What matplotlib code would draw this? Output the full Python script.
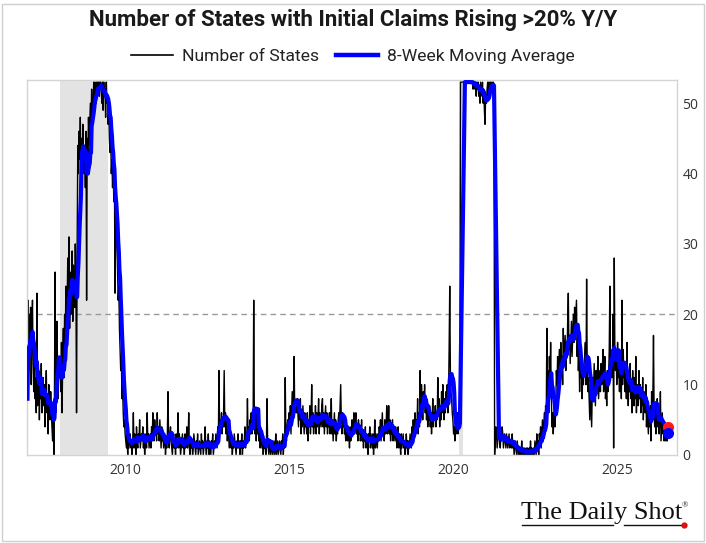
import matplotlib
matplotlib.use('Agg')
import matplotlib.pyplot as plt
import matplotlib.dates as mdates
from matplotlib import font_manager
from matplotlib.lines import Line2D
from matplotlib.patches import Rectangle
import pandas as pd
import datetime as dt

# ---- weekly number of states with initial claims rising >20% y/y ----
y2007 = [8, 22, 12, 20, 15, 21, 10, 18, 22, 13, 9, 14, 8,
         11, 6, 23, 7, 9, 12, 5, 10, 8, 13, 6, 9, 11,
         7, 10, 4, 9, 12, 6, 8, 3, 10, 7, 5, 9, 6,
         4, 2, 7, 0, 9, 26, 6, 15, 19, 12, 8, 14, 11]
y2008 = [12, 9, 16, 6, 14, 18, 11, 20, 15, 24, 17, 21, 28,
         22, 31, 18, 26, 20, 25, 29, 19, 27, 23, 21, 30, 24,
         6, 30, 44, 40, 46, 42, 48, 39, 45, 41, 47, 43, 40,
         44, 38, 46, 22, 45, 42, 48, 44, 47, 50, 46, 52, 49]
y2009 = [48, 53, 51, 53, 52, 50, 53, 53, 52, 53, 51, 53, 53,
         52, 50, 53, 49, 53, 51, 52, 48, 53, 50, 51, 47, 49,
         45, 43, 46, 40, 42, 38, 41, 36, 39, 23, 35, 32, 30,
         26, 22, 24, 18, 15, 12, 14, 8, 10, 6, 4, 5, 3]
y2010 = [2, 1, 3, 0, 4, 1, 2, 3, 1, 2, 0, 2, 6,
         1, 3, 2, 0, 4, 2, 1, 3, 2, 5, 1, 2, 3,
         2, 4, 1, 3, 0, 2, 3, 1, 6, 2, 3, 1, 2,
         3, 1, 4, 2, 6, 3, 2, 5, 3, 4, 2, 6, 3]
y2011 = [4, 2, 5, 3, 1, 4, 2, 3, 1, 2, 3, 0, 2,
         1, 3, 9, 2, 1, 3, 4, 2, 1, 0, 2, 3, 1,
         2, 0, 3, 1, 2, 6, 1, 3, 2, 0, 1, 2, 3,
         1, 2, 0, 3, 1, 2, 4, 1, 2, 6, 1, 0, 2]
y2012 = [1, 2, 0, 1, 3, 2, 1, 0, 2, 1, 3, 0, 1,
         2, 1, 0, 3, 1, 2, 0, 1, 2, 4, 1, 0, 2,
         1, 3, 0, 2, 1, 0, 2, 1, 3, 0, 1, 2, 1,
         3, 2, 1, 4, 2, 12, 3, 5, 4, 6, 3, 5, 4]
y2013 = [12, 4, 6, 3, 5, 2, 4, 3, 1, 2, 3, 1, 2,
         0, 2, 1, 3, 2, 1, 0, 2, 1, 3, 1, 2, 0,
         2, 1, 3, 0, 2, 1, 2, 4, 1, 3, 2, 8, 3,
         4, 2, 5, 3, 6, 3, 4, 4, 22, 5, 3, 6, 2]
y2014 = [6, 3, 5, 2, 4, 1, 3, 2, 1, 3, 0, 2, 1,
         2, 0, 1, 8, 2, 1, 0, 2, 1, 0, 1, 2, 0,
         1, 2, 0, 1, 3, 0, 1, 2, 0, 1, 2, 1, 0,
         2, 1, 3, 0, 2, 1, 11, 3, 2, 4, 5, 3, 6]
y2015 = [4, 7, 3, 6, 9, 5, 8, 14, 6, 7, 7, 6, 8,
         6, 4, 7, 5, 8, 3, 6, 4, 7, 5, 3, 6, 4,
         5, 3, 6, 2, 5, 4, 7, 3, 5, 10, 4, 6, 3,
         5, 4, 7, 3, 6, 4, 5, 8, 3, 6, 5, 4, 7]
y2016 = [8, 4, 6, 3, 5, 7, 4, 6, 3, 5, 4, 6, 3,
         4, 8, 3, 5, 2, 4, 6, 3, 5, 2, 4, 3, 5,
         6, 4, 7, 10, 5, 3, 6, 4, 5, 3, 4, 2, 5,
         3, 2, 4, 3, 1, 4, 2, 3, 5, 3, 4, 6, 3]
y2017 = [5, 6, 3, 4, 2, 5, 3, 4, 2, 3, 5, 2, 3,
         1, 3, 2, 4, 1, 3, 2, 0, 3, 2, 4, 1, 3,
         2, 1, 3, 0, 2, 5, 1, 3, 2, 1, 3, 2, 4,
         3, 5, 2, 4, 6, 3, 4, 2, 5, 3, 4, 7, 3]
y2018 = [4, 7, 3, 5, 2, 4, 3, 5, 2, 4, 3, 2, 4,
         3, 1, 2, 4, 1, 3, 2, 0, 3, 1, 2, 3, 1,
         2, 0, 1, 3, 1, 2, 0, 2, 1, 3, 2, 1, 4,
         2, 5, 3, 4, 6, 3, 5, 4, 8, 3, 6, 4, 12]
y2019 = [6, 10, 8, 5, 9, 7, 10, 6, 8, 5, 7, 4, 6,
         5, 7, 4, 6, 3, 5, 8, 4, 6, 5, 7, 4, 6,
         5, 11, 6, 8, 4, 7, 5, 9, 6, 10, 7, 5, 8,
         6, 9, 7, 10, 6, 8, 15, 24, 12, 9, 8, 6, 5]
y2020 = [3, 4, 2, 5, 3, 4, 6, 3, 5, 4, 6, 53, 53,
         53, 53, 53, 53, 53, 53, 53, 53, 53, 53, 53, 53, 53,
         53, 53, 53, 53, 53, 52, 53, 53, 52, 53, 51, 53, 52,
         53, 51, 52, 50, 53, 52, 51, 53, 50, 52, 49, 47, 51]
y2021 = [50, 52, 53, 51, 53, 52, 53, 53, 52, 53, 52, 53, 52,
         0, 2, 4, 3, 1, 2, 3, 4, 2, 1, 3, 2, 4,
         3, 1, 2, 3, 2, 1, 3, 2, 1, 2, 3, 1, 2,
         2, 1, 3, 1, 2, 0, 1, 2, 1, 0, 2, 1, 0]
y2022 = [1, 0, 1, 0, 2, 0, 1, 0, 1, 0, 0, 1, 0,
         1, 0, 0, 1, 0, 2, 0, 1, 0, 0, 1, 0, 2,
         1, 0, 3, 1, 2, 0, 3, 2, 4, 1, 3, 5, 2,
         4, 6, 3, 7, 5, 18, 8, 12, 6, 14, 10, 16, 9]
y2023 = [4, 6, 3, 5, 8, 4, 7, 12, 10, 14, 9, 13, 15,
         11, 16, 12, 14, 10, 18, 13, 15, 17, 12, 16, 14, 19,
         23, 15, 17, 13, 16, 19, 14, 17, 20, 16, 21, 18, 20,
         22, 14, 17, 12, 15, 9, 13, 11, 14, 8, 12, 10, 13]
y2024 = [14, 16, 10, 25, 12, 9, 11, 8, 5, 10, 7, 4, 9,
         11, 8, 13, 10, 7, 12, 9, 11, 14, 8, 10, 12, 9,
         13, 10, 12, 15, 9, 11, 14, 8, 10, 7, 12, 9, 11,
         15, 24, 13, 13, 11, 12, 20, 1, 28, 14, 12, 15, 10]
y2025 = [16, 11, 13, 9, 14, 12, 8, 22, 10, 15, 11, 13, 9,
         12, 8, 16, 10, 7, 11, 9, 13, 8, 10, 6, 12, 9,
         7, 11, 8, 14, 6, 10, 9, 7, 12, 8, 10, 6, 9,
         7, 11, 5, 9, 8, 6, 10, 4, 7, 5, 3, 6, 4]
y2026 = [7, 2, 9, 5, 8, 17, 6, 4, 7, 3, 5, 8, 4,
         6, 3, 5, 9, 2, 4, 6, 3, 5, 2, 4, 3, 2, 3, 2, 4]

yearly = {2007: y2007, 2008: y2008, 2009: y2009, 2010: y2010, 2011: y2011,
          2012: y2012, 2013: y2013, 2014: y2014, 2015: y2015, 2016: y2016,
          2017: y2017, 2018: y2018, 2019: y2019, 2020: y2020, 2021: y2021,
          2022: y2022, 2023: y2023, 2024: y2024, 2025: y2025, 2026: y2026}

recessions = [("2008-01-01", "2009-06-20"), ("2020-03-01", "2020-04-25")]
threshold = 20
y_ticks = [0, 10, 20, 30, 40, 50]
x_tick_years = [2010, 2015, 2020, 2025]

title = "Number of States with Initial Claims Rising >20% Y/Y"
label_raw = "Number of States"
label_ma = "8-Week Moving Average"

# ---- build series ----
dates, vals = [], []
for yr, v in yearly.items():
    dates.extend(pd.date_range(f"{yr}-01-06", periods=len(v), freq="7D"))
    vals.extend(v)
raw = pd.Series(vals, index=pd.DatetimeIndex(dates), dtype=float)
ma = raw.rolling(8, min_periods=1).mean()

# ---- fonts ----
avail = {f.name for f in font_manager.fontManager.ttflist}
def pick(*names):
    for n in names:
        if n in avail:
            return n
    return "DejaVu Sans"
title_font = pick("Liberation Sans Narrow", "Roboto", "DejaVu Sans")
tick_font = pick("Open Sans", "Lato", "DejaVu Sans")
serif_font = pick("Liberation Serif", "DejaVu Serif")

W, H = 706, 543
fig = plt.figure(figsize=(W / 100, H / 100), dpi=100)
fig.patch.set_facecolor("white")
ax = fig.add_axes([27 / W, 1 - 455 / H, 650 / W, 375 / H])

for a, b in recessions:
    ax.axvspan(pd.Timestamp(a), pd.Timestamp(b), color="#e3e3e3", lw=0, zorder=0)
ax.axhline(threshold, color="#999999", lw=1, ls=(0, (4, 3)), zorder=1)
ax.plot(raw.index, raw.values, color="black", lw=1.0, zorder=2, label=label_raw)
ax.plot(ma.index, ma.values, color="#0000ff", lw=3.0, zorder=3, label=label_ma,
        solid_joinstyle="round")
ax.plot(raw.index[-1], raw.values[-1], "o", color="#ff1a1a", ms=7, zorder=4)
ax.plot(ma.index[-1], ma.values[-1], "o", color="#0000ff", ms=7, zorder=5)

ax.set_ylim(0, 53.3)
ax.set_xlim(dt.date(2007, 1, 1), dt.date(2026, 10, 30))
ax.yaxis.tick_right()
ax.set_yticks(y_ticks)
ax.set_xticks([dt.date(y, 1, 1) for y in x_tick_years])
ax.xaxis.set_major_formatter(mdates.DateFormatter("%Y"))
ax.tick_params(axis="both", length=0, labelsize=10, colors="#333333")
ax.tick_params(axis="y", pad=4)
ax.tick_params(axis="x", pad=6)
for lab in ax.get_xticklabels() + ax.get_yticklabels():
    lab.set_fontfamily(tick_font)
for s in ax.spines.values():
    s.set_color("#d4d4d4")
    s.set_linewidth(1)

fig.text(0.5, 1 - 20 / H, title, ha="center", va="center", fontsize=16,
         fontweight="bold", family=title_font, color="#1a1a1a")

leg = fig.legend(handles=[Line2D([], [], color="black", lw=1.2),
                          Line2D([], [], color="#0000ff", lw=3.2)],
                 labels=[label_raw, label_ma], loc="center",
                 bbox_to_anchor=(0.5, 1 - 56 / H), ncol=2, frameon=False,
                 handlelength=2.4, columnspacing=1.0, handletextpad=0.5,
                 prop={"family": title_font, "size": 12.6})
for t in leg.get_texts():
    t.set_color("#222222")

# logo
fig.text(602 / W, 1 - 519 / H, "The Daily Shot", ha="center", va="baseline",
         family=serif_font, fontsize=19, color="#111111")
fig.text(685 / W, 1 - 505 / H, "®", ha="center", va="center",
         family=serif_font, fontsize=6, color="#111111")
fig.add_artist(Line2D([522 / W, 613 / W], [1 - 525 / H, 1 - 525 / H],
                      color="#111111", lw=1.0, transform=fig.transFigure))
fig.add_artist(Line2D([624 / W, 682 / W], [1 - 525 / H, 1 - 525 / H],
                      color="#111111", lw=1.0, transform=fig.transFigure))
fig.add_artist(Line2D([684 / W], [1 - 525 / H], marker="o", ms=3.5,
                      color="#e01010", transform=fig.transFigure))

fig.patches.append(Rectangle((1.5 / W, 2.5 / H), 702 / W, 537 / H,
                             transform=fig.transFigure, fill=False,
                             edgecolor="#cfcfcf", lw=1))

fig.savefig("out.png", dpi=100, facecolor="white")
